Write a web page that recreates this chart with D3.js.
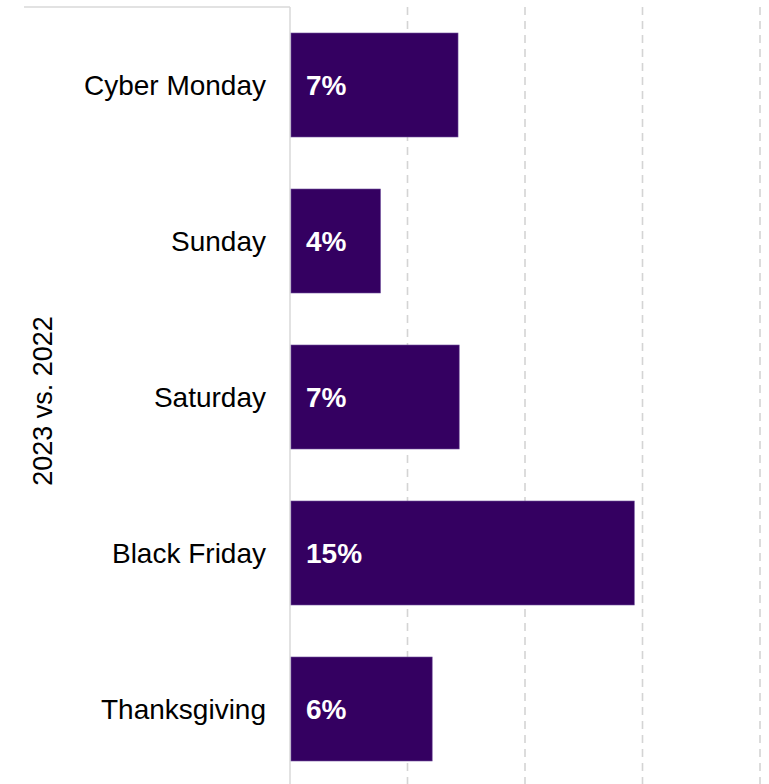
<!DOCTYPE html>
<html>
<head>
<meta charset="utf-8">
<script src="https://cdn.jsdelivr.net/npm/d3@7"></script>
<style>
  body { margin: 0; background: #fff; }
  text { font-family: Arial, "Liberation Sans", sans-serif; }
</style>
</head>
<body>
<div id="chart"></div>
<script>
// categories top to bottom
var categories = ["Cyber Monday", "Sunday", "Saturday", "Black Friday", "Thanksgiving"]
// growth 2023 vs 2022 (%)
var values = [7.15, 3.85, 7.2, 14.65, 6.05]
var valueLabels = ["7%", "4%", "7%", "15%", "6%"]
var gridTicks = [0, 5, 10, 15, 20]

var width = 769, height = 784

var svg = d3.select("#chart").append("svg")
  .attr("width", width)
  .attr("height", height)

var x = d3.scaleLinear()
  .domain([0, 20])
  .range([290, 760])

var y = d3.scaleBand()
  .domain(categories)
  .range([7, 787])
  .paddingInner(1 / 3)
  .paddingOuter(1 / 6)

// dashed gridlines
svg.append("g")
  .selectAll("line")
  .data(gridTicks.slice(1))
  .enter().append("line")
  .attr("x1", function (d) { return x(d) })
  .attr("x2", function (d) { return x(d) })
  .attr("y1", 7)
  .attr("y2", height)
  .attr("stroke", "#d4d4d4")
  .attr("stroke-width", 1.6)
  .attr("stroke-dasharray", "8,6")

// left panel border: top edge + axis line
svg.append("line")
  .attr("x1", 24).attr("x2", x(0))
  .attr("y1", 7).attr("y2", 7)
  .attr("stroke", "#d9d9d9").attr("stroke-width", 1.5)
svg.append("line")
  .attr("x1", x(0)).attr("x2", x(0))
  .attr("y1", 7).attr("y2", height)
  .attr("stroke", "#d9d9d9").attr("stroke-width", 1.5)

var data = categories.map(function (c, i) {
  return { cat: c, value: values[i], label: valueLabels[i] }
})

svg.selectAll(".bar")
  .data(data)
  .enter().append("rect")
  .attr("class", "bar")
  .attr("x", x(0) + 1)
  .attr("y", function (d) { return y(d.cat) })
  .attr("width", function (d) { return x(d.value) - x(0) - 1 })
  .attr("height", y.bandwidth())
  .attr("fill", "#340061")
  .attr("stroke", "#6e4d9a")
  .attr("stroke-width", 0.6)

svg.selectAll(".val")
  .data(data)
  .enter().append("text")
  .attr("class", "val")
  .attr("x", x(0) + 16)
  .attr("y", function (d) { return y(d.cat) + y.bandwidth() / 2 })
  .attr("dy", "0.36em")
  .attr("fill", "#fff")
  .attr("font-size", 28)
  .attr("font-weight", "bold")
  .text(function (d) { return d.label })

// category labels
svg.selectAll(".cat")
  .data(categories)
  .enter().append("text")
  .attr("class", "cat")
  .attr("x", 266)
  .attr("y", function (d) { return y(d) + y.bandwidth() / 2 })
  .attr("dy", "0.36em")
  .attr("text-anchor", "end")
  .attr("fill", "#000")
  .attr("font-size", 28)
  .text(function (d) { return d })

svg.append("text")
  .attr("transform", "translate(52,401) rotate(-90)")
  .attr("text-anchor", "middle")
  .attr("font-size", 27)
  .attr("fill", "#000")
  .text("2023 vs. 2022")
</script>
</body>
</html>
